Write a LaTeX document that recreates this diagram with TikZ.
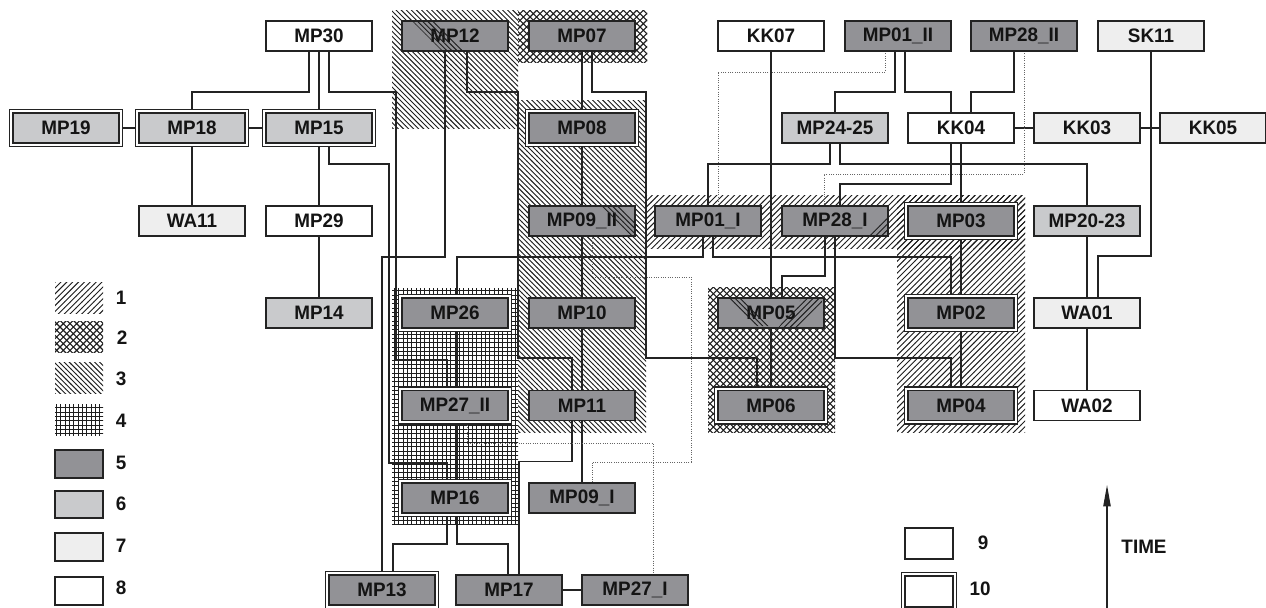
\documentclass[tikz,border=0pt]{standalone}
\usepackage{fontspec}
\setmainfont{Liberation Sans}[FakeStretch=0.97]
\usetikzlibrary{patterns,calc,arrows.meta}
\pgfdeclarelayer{pat}
\pgfdeclarelayer{con}
\pgfsetlayers{pat,con,main}
\definecolor{c5}{RGB}{146,146,150}
\definecolor{c6}{RGB}{201,202,204}
\definecolor{c7}{RGB}{238,238,238}
\definecolor{lc}{RGB}{35,35,35}
\definecolor{tc}{RGB}{20,20,20}
\definecolor{pc}{RGB}{30,30,30}
% pattern 1: north east lines
\pgfdeclarepatternformonly{patA}{\pgfqpoint{-1pt}{-1pt}}{\pgfqpoint{5.4pt}{5.4pt}}{\pgfqpoint{4.4pt}{4.4pt}}{%
  \pgfsetlinewidth{0.7pt}\pgfpathmoveto{\pgfqpoint{-0.1pt}{-0.1pt}}\pgfpathlineto{\pgfqpoint{4.5pt}{4.5pt}}\pgfusepath{stroke}}
% pattern 3: north west lines
\pgfdeclarepatternformonly{patC}{\pgfqpoint{-1pt}{-1pt}}{\pgfqpoint{4.8pt}{4.8pt}}{\pgfqpoint{3.8pt}{3.8pt}}{%
  \pgfsetlinewidth{0.7pt}\pgfpathmoveto{\pgfqpoint{-0.1pt}{3.9pt}}\pgfpathlineto{\pgfqpoint{3.9pt}{-0.1pt}}\pgfusepath{stroke}}
% pattern 2: diagonal crosshatch
\pgfdeclarepatternformonly{patB}{\pgfqpoint{-1pt}{-1pt}}{\pgfqpoint{6pt}{6pt}}{\pgfqpoint{5pt}{5pt}}{%
  \pgfsetlinewidth{0.8pt}\pgfpathmoveto{\pgfqpoint{-0.1pt}{-0.1pt}}\pgfpathlineto{\pgfqpoint{5.1pt}{5.1pt}}%
  \pgfpathmoveto{\pgfqpoint{-0.1pt}{5.1pt}}\pgfpathlineto{\pgfqpoint{5.1pt}{-0.1pt}}\pgfusepath{stroke}}
% pattern 4: grid
\pgfdeclarepatternformonly{patD}{\pgfqpoint{-1pt}{-1pt}}{\pgfqpoint{4.25pt}{4.25pt}}{\pgfqpoint{3.25pt}{3.25pt}}{%
  \pgfsetlinewidth{0.55pt}\pgfpathmoveto{\pgfqpoint{0pt}{0pt}}\pgfpathlineto{\pgfqpoint{0pt}{3.35pt}}%
  \pgfpathmoveto{\pgfqpoint{0pt}{0pt}}\pgfpathlineto{\pgfqpoint{3.35pt}{0pt}}\pgfusepath{stroke}}
\begin{document}
\begin{tikzpicture}[x=0.75pt,y=-0.75pt,
  box/.style={draw=lc, line width=0.8pt, minimum width=79.5pt, minimum height=22.5pt,
    inner sep=0pt, outer sep=0pt, font=\fontsize{14.6}{16}\selectfont\bfseries, text=tc},
  dbl/.style={box, double=white, double distance=1.8pt, minimum width=82.125pt, minimum height=25.125pt},
  f5/.style={fill=c5}, f6/.style={fill=c6}, f7/.style={fill=c7}, f8/.style={fill=white},
  con/.style={draw=lc, line width=0.85pt},
  dot/.style={draw=black!60, line width=0.75pt, densely dotted},
  lab/.style={font=\fontsize{14.6}{16}\selectfont\bfseries, text=tc, inner sep=0pt},
  sw/.style={minimum width=36pt, minimum height=23.25pt, inner sep=0pt, outer sep=0pt},
  pA/.style={pattern=patA, pattern color=pc},
  pB/.style={pattern=patB, pattern color=pc},
  pC/.style={pattern=patC, pattern color=pc},
  pD/.style={pattern=patD, pattern color=pc}]
\useasboundingbox (0,0) rectangle (1266,607);

% ---------- nodes ----------
\node[box,f8] (MP30) at (319,36) {MP30};
\node[box,f5] (MP12) at (455,36) {MP12};
\node[box,f5] (MP07) at (582,36) {MP07};
\node[box,f8] (KK07) at (771,36) {KK07};
\node[box,f5] (MP01ii) at (898,36) {MP01\_II};
\node[box,f5] (MP28ii) at (1024,36) {MP28\_II};
\node[box,f7] (SK11) at (1151,36) {SK11};

\node[dbl,f6] (MP19) at (66,128) {MP19};
\node[dbl,f6] (MP18) at (192,128) {MP18};
\node[dbl,f6] (MP15) at (319,128) {MP15};
\node[dbl,f5] (MP08) at (582,128) {MP08};
\node[box,f6] (MP24) at (835,128) {MP24-25};
\node[box,f8] (KK04) at (961,128) {KK04};
\node[box,f7] (KK03) at (1087,128) {KK03};
\node[box,f7] (KK05) at (1213,128) {KK05};

\node[box,f7] (WA11) at (192,221) {WA11};
\node[box,f8] (MP29) at (319,221) {MP29};
\node[box,f5] (MP09ii) at (582,221) {MP09\_II};
\node[box,f5] (MP01i) at (708,221) {MP01\_I};
\node[box,f5] (MP28i) at (835,221) {MP28\_I};
\node[dbl,f5] (MP03) at (961,221) {MP03};
\node[box,f6] (MP20) at (1087,221) {MP20-23};

\node[box,f6] (MP14) at (319,313) {MP14};
\node[dbl,f5] (MP26) at (455,313) {MP26};
\node[box,f5] (MP10) at (582,313) {MP10};
\node[box,f5] (MP05) at (771,313) {MP05};
\node[dbl,f5] (MP02) at (961,313) {MP02};
\node[box,f7] (WA01) at (1087,313) {WA01};

\node[dbl,f5] (MP27ii) at (455,405.5) {MP27\_II};
\node[box,f5] (MP11) at (582,405.5) {MP11};
\node[dbl,f5] (MP06) at (771,405.5) {MP06};
\node[dbl,f5] (MP04) at (961,405.5) {MP04};
\node[box,f8] (WA02) at (1087,405.5) {WA02};

\node[dbl,f5] (MP16) at (455,498) {MP16};
\node[box,f5] (MP09i) at (582,498) {MP09\_I};

\node[dbl,f5] (MP13) at (382,590) {MP13};
\node[box,f5] (MP17) at (509,590) {MP17};
\node[box,f5] (MP27i) at (635,590) {MP27\_I};

% ---------- pattern regions ----------
\begin{pgfonlayer}{pat}
\fill[pC] (392,10) rectangle (518,128);
\fill[pB] (518,10) rectangle (647,62);
\fill[pC] (518,100) rectangle (646,432);
\fill[pA] (646,195) rectangle (1025,248);
\fill[pA] (897,195) rectangle (1025,432);
\fill[pD] (392,288) rectangle (518,524);
\fill[pB] (708,287) rectangle (835,432);
\end{pgfonlayer}

% ---------- connectors ----------
\begin{pgfonlayer}{con}
\draw[con] (MP19) -- (MP18);
\draw[con] (MP18) -- (MP15);
\draw[con] (KK04) -- (KK03);
\draw[con] (KK03) -- (KK05);
\draw[con] (MP17) -- (MP27i);
\draw[con] (MP18.south) -- (WA11.north);
\draw[con] (MP30.south) -- (MP15.north);
\draw[con] (MP15.south) -- (MP29.north);
\draw[con] (MP29.south) -- (MP14.north);
\draw[con] ($(MP30.south)+(-10,0)$) -- ++(0,41) -| (MP18.north);
\draw[con] ($(MP30.south)+(10,0)$) -- ++(0,41) -- (396,92) -- (396,360) -| ($(MP27ii.north)+(-8,0)$);
\draw[con] ($(MP15.south)+(10,0)$) |- (389,164) -- (389,463) -| ($(MP16.north)+(-8,0)$);
\draw[con] ($(MP12.south)+(-10,0)$) |- (382,257) -- (MP13.north);
\draw[con] ($(MP12.south)+(12,0)$) -- ++(0,41) -- (518,92) -- (518,358) -| ($(MP11.north)+(-10,0)$);
\draw[con] (MP07.south) -- (MP08.north);
\draw[con] ($(MP07.south)+(10,0)$) -- ++(0,41) -- (646,92) -- (646,358) -| ($(MP06.north)+(-14,0)$);
\draw[con] (MP08.south) -- (MP09ii.north);
\draw[con] (MP09ii.south) -- (MP10.north);
\draw[con] (MP10.south) -- (MP11.north);
\draw[con] (MP11.south) -- (MP09i.north);
\draw[dot] ($(MP09ii.south)+(10,0)$) -- ++(0,41) -- (691,277) -- (691,462) -| ($(MP09i.north)+(10,0)$);
\draw[con] ($(MP11.south)+(-10,0)$) -- ++(0,41) -| ($(MP17.north)+(10,0)$);
\draw[con] ($(MP26.south)+(2,0)$) -- ($(MP27ii.north)+(2,0)$);
\draw[con] ($(MP27ii.south)+(2,0)$) -- ($(MP16.north)+(2,0)$);
\draw[dot] ($(MP27ii.south)+(12,0)$) |- (653,443) -- ($(MP27i.north)+(18,0)$);
\draw[con] ($(MP16.south)+(-8,0)$) |- (393,544) -- ($(MP13.north)+(11,0)$);
\draw[con] ($(MP16.south)+(2,0)$) |- (508,544) -- ($(MP17.north)+(-1,0)$);
\draw[con] ($(MP01i.south)+(-5,0)$) |- (457,257) -- ($(MP26.north)+(2,0)$);
\draw[con] ($(MP01i.south)+(5,0)$) |- (951,257) -- ($(MP02.north)+(-10,0)$);
\draw[dot] ($(MP01ii.south)+(-13,0)$) |- (718,72) -- ($(MP01i.north)+(10,0)$);
\draw[con] ($(MP01ii.south)+(-3,0)$) |- (835,92) -- (MP24.north);
\draw[con] ($(MP01ii.south)+(7,0)$) |- (951,92) -- ($(KK04.north)+(-10,0)$);
\draw[con] ($(MP28ii.south)+(-10,0)$) |- (971,92) -- ($(KK04.north)+(10,0)$);
\draw[dot] (MP28ii.south) |- (824,174) -- ($(MP28i.north)+(-11,0)$);
\draw[con] ($(KK04.south)+(-10,0)$) |- (840,184) -- ($(MP28i.north)+(5,0)$);
\draw[con] (KK04.south) -- (MP03.north);
\draw[con] ($(MP24.south)+(-5,0)$) |- (708,164) -- (MP01i.north);
\draw[con] ($(MP24.south)+(5,0)$) |- (1087,164) -- (MP20.north);
\draw[con] (KK07.south) -- (MP05.north);
\draw[con] ($(MP28i.south)+(-10,0)$) |- (782,276) -- ($(MP05.north)+(11,0)$);
\draw[con] (MP28i.south) |- (951,358) -- ($(MP04.north)+(-10,0)$);
\draw[con] (MP03.south) -- (MP02.north);
\draw[con] (MP02.south) -- (MP04.north);
\draw[con] (MP05.south) -- (MP06.north);
\draw[con] (MP20.south) -- (WA01.north);
\draw[con] (SK11.south) |- (1098,256) -- ($(WA01.north)+(11,0)$);
\draw[con] (WA01.south) -- (WA02.north);
\end{pgfonlayer}

% ---------- hatch overlays on boxes ----------
\fill[pC] (412,21) -- (434,21) -- (464,51) -- (442,51) -- cycle;
\fill[pC] (600,206) -- (620,206) -- (638,224) -- (638,236) -- (630,236) -- cycle;
\fill[pA] (868,236) -- (888,236) -- (888,216) -- cycle;
\fill[pC] (726,298) -- (742,298) -- (770,326) -- (754,326) -- cycle;
\fill[pA] (802,298) -- (822,298) -- (822,304) -- (798,328) -- (778,328) -- cycle;

% ---------- legend ----------
\node[sw,pA] (L1) at (79,297.5) {};
\node[sw,pB] (L2) at (79,337) {};
\node[sw,pC] (L3) at (79,377.5) {};
\node[sw,pD] (L4) at (79,419.5) {};
\node[sw,draw=lc,line width=0.8pt,fill=c5,minimum height=21pt] (L5) at (79,464) {};
\node[sw,draw=lc,line width=0.8pt,fill=c6,minimum height=20.25pt] (L6) at (79,504.5) {};
\node[sw,draw=lc,line width=0.8pt,fill=c7,minimum height=21pt] (L7) at (79,547) {};
\node[sw,draw=lc,line width=0.8pt,fill=white,minimum height=21pt] (L8) at (79,591) {};
\node[lab] (T1) at (121,298) {1};
\node[lab] (T2) at (122,338) {2};
\node[lab] (T3) at (121,379) {3};
\node[lab] (T4) at (121,421) {4};
\node[lab] (T5) at (121,463) {5};
\node[lab] (T6) at (121,504) {6};
\node[lab] (T7) at (121,546) {7};
\node[lab] (T8) at (121,588) {8};

\node[sw,draw=lc,line width=0.8pt,fill=white] (L9) at (929,543.5) {};
\node[sw,draw=lc,line width=0.8pt,fill=white,double=white,double distance=1.8pt,
  minimum width=38.625pt,minimum height=25.875pt] (L10) at (929,591.5) {};
\node[lab] (T9) at (983,543) {9};
\node[lab] (T10) at (980,589) {10};

\coordinate (tA) at (1107,610);
\coordinate (tB) at (1107,485);
\draw[con,-{Triangle[length=16pt,width=5.5pt]}] (tA) -- (tB);
\node[lab] (TIME) at (1144,547) {TIME};
\end{tikzpicture}
\end{document}
